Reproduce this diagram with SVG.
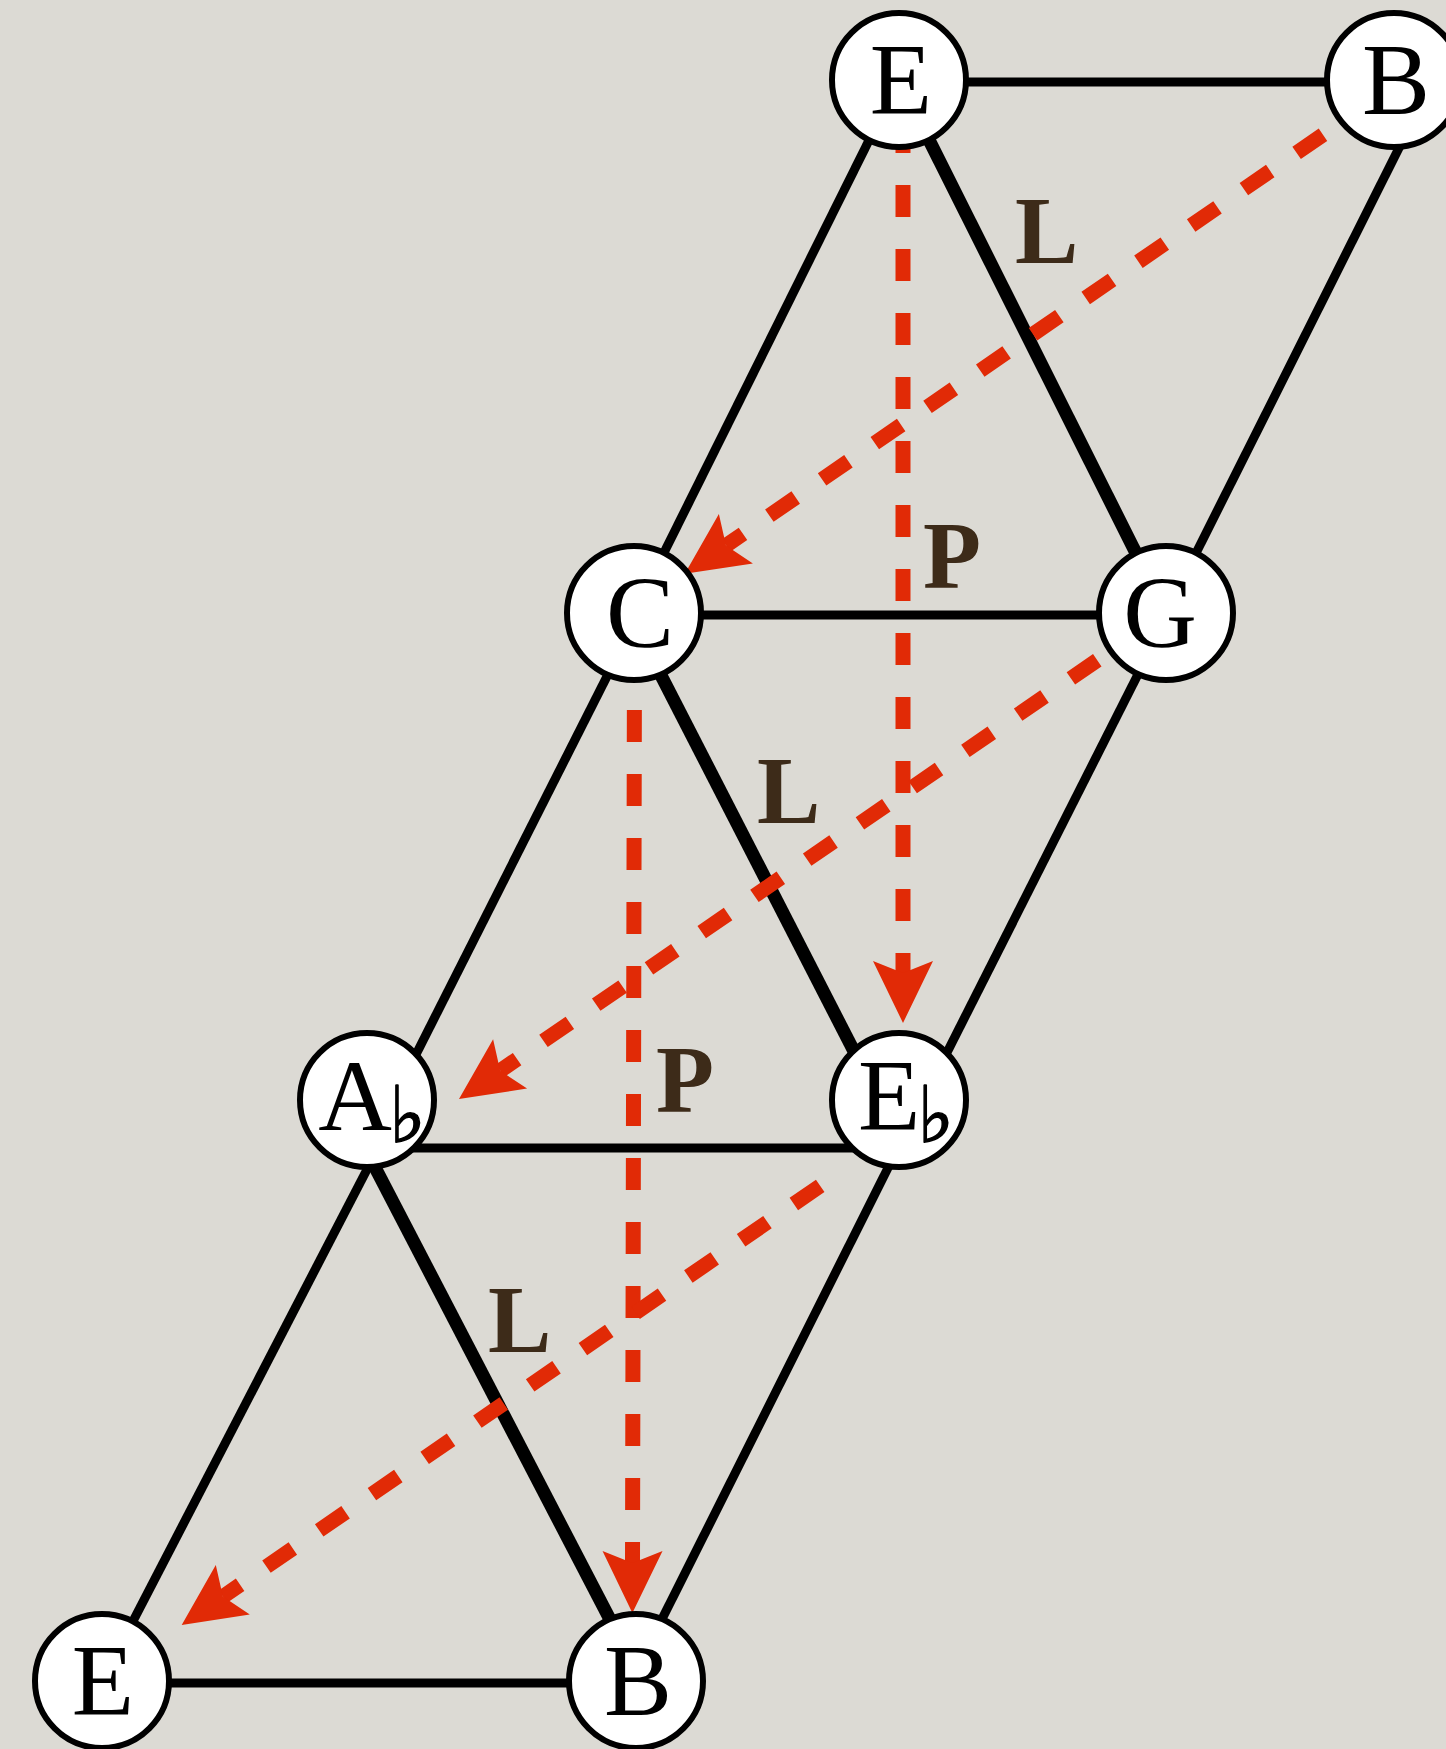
<svg xmlns="http://www.w3.org/2000/svg" width="1446" height="1749" viewBox="0 0 1446 1749">
<defs>
<style>
.edge{stroke:#000;stroke-width:9;fill:none}
.thick{stroke:#000;stroke-width:13;fill:none}
.arr{stroke:#e12a06;stroke-width:15;fill:none;stroke-dasharray:32 32;marker-end:url(#ah)}
.node circle{fill:#fff;stroke:#000;stroke-width:6}
.nl{font-family:"Liberation Serif","Times New Roman",serif;font-size:102px;fill:#000;text-anchor:middle}
.fl{font-family:"DejaVu Serif","DejaVu Sans",serif;font-size:78px;stroke:#000;stroke-width:1.5}
.lbl{font-family:"Liberation Serif","Times New Roman",serif;font-weight:bold;font-size:95px;fill:#3d2b19}
</style>
<marker id="ah" markerUnits="userSpaceOnUse" viewBox="-15 -32 70 64" markerWidth="70" markerHeight="64" refX="0" refY="0" orient="auto">
<path d="M50,0 L-12,-30 L0,0 L-12,30 Z" fill="#e12a06"/>
</marker>
</defs>
<rect x="0" y="0" width="1446" height="1749" fill="#dcdad4"/>
<g id="connectors">
<line class="edge" x1="899" y1="82" x2="1394" y2="82"/>
<line class="edge" x1="899" y1="80" x2="634" y2="613"/>
<line class="thick" x1="899" y1="80" x2="1166" y2="613"/>
<line class="edge" x1="1166" y1="613" x2="1412" y2="122"/>
<line class="edge" x1="634" y1="615" x2="1166" y2="615"/>
<line class="edge" x1="639" y1="613" x2="393" y2="1100"/>
<line class="thick" x1="629" y1="613" x2="879" y2="1100"/>
<line class="edge" x1="1169" y1="613" x2="923" y2="1100"/>
<line class="edge" x1="367" y1="1148" x2="899" y2="1148"/>
<line class="edge" x1="403" y1="1100" x2="102" y2="1681"/>
<line class="thick" x1="340" y1="1100" x2="642" y2="1681"/>
<line class="edge" x1="922" y1="1100" x2="631" y2="1681"/>
<line class="edge" x1="102" y1="1683" x2="636" y2="1683"/>
<path class="arr" d="M903,121 L903,973"/>
<path class="arr" d="M634.5,646 L632.5,1563"/>
<path class="arr" d="M1375.7,98.5 L726,545.5"/>
<path class="arr" d="M1150,624 L500.2,1070.7"/>
<path class="arr" d="M820.2,1185.9 L222.9,1596.6"/>
</g>
<g id="node-E-top" class="node"><circle cx="899" cy="80" r="67"/><text class="nl" x="901" y="114">E</text></g>
<g id="node-B-top" class="node"><circle cx="1394" cy="80" r="67"/><text class="nl" x="1396" y="114">B</text></g>
<g id="node-C" class="node"><circle cx="634" cy="613" r="67"/><text class="nl" x="640" y="647">C</text></g>
<g id="node-G" class="node"><circle cx="1166" cy="613" r="67"/><text class="nl" x="1160" y="647">G</text></g>
<g id="node-Ab" class="node"><circle cx="367" cy="1100" r="67"/><text class="nl" x="372" y="1130">A<tspan class="fl" dx="-3" dy="12">♭</tspan></text></g>
<g id="node-Eb" class="node"><circle cx="899" cy="1100" r="67"/><text class="nl" x="906" y="1130">E<tspan class="fl" dx="-3" dy="12">♭</tspan></text></g>
<g id="node-E-bottom" class="node"><circle cx="102" cy="1681" r="67"/><text class="nl" x="103" y="1715">E</text></g>
<g id="node-B-bottom" class="node"><circle cx="636" cy="1681" r="67"/><text class="nl" x="638" y="1715">B</text></g>
<g id="labels">
<text class="lbl" x="1015" y="263">L</text>
<text class="lbl" x="923" y="588">P</text>
<text class="lbl" x="757" y="823">L</text>
<text class="lbl" x="656" y="1112">P</text>
<text class="lbl" x="488" y="1352">L</text>
</g>
</svg>
